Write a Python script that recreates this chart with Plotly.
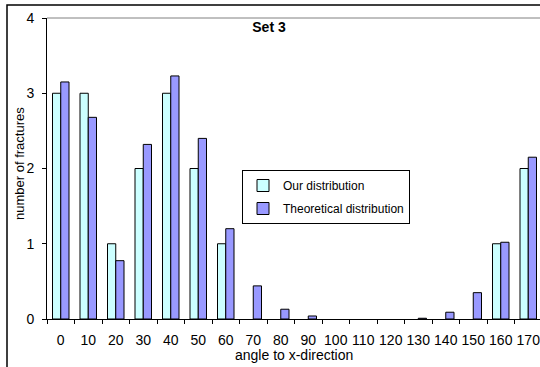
import plotly.graph_objects as go

# Orientation classes (degrees to x-direction)
angles = ["0", "10", "20", "30", "40", "50", "60", "70", "80", "90",
          "100", "110", "120", "130", "140", "150", "160", "170"]
# Observed fracture counts per class (None = no fractures in class)
our_counts = [3, 3, 1, 2, 3, 2, 1, None, None, None, None, None, None,
              None, None, None, 1, 2]
# Theoretical expected counts per class
theoretical = [3.15, 2.68, 0.775, 2.32, 3.23, 2.40, 1.20, 0.44, 0.13, 0.04,
               None, None, None, 0.01, 0.09, 0.35, 1.02, 2.15]

W, H = 540, 367
ML, MR, MT, MB = 47, 0, 18, 48
PW, PH = W - ML - MR, H - MT - MB

def px_x(x):
    return (x - ML) / PW

def px_y(y):
    return (H - MB - y) / PH

font_family = "Liberation Sans, Arial, sans-serif"

fig = go.Figure()
fig.add_trace(go.Bar(
    x=angles, y=our_counts, name="Our distribution",
    marker=dict(color="#CCFFFF", line=dict(color="black", width=1)),
    legendgroup="a",
))
fig.add_trace(go.Bar(
    x=angles, y=theoretical, name="Theoretical distribution",
    marker=dict(color="#9999FF", line=dict(color="black", width=1)),
    legendgroup="b",
))

cat_w = 27.5
fig.update_layout(
    width=W, height=H,
    margin=dict(l=ML, r=MR, t=MT, b=MB, pad=0),
    paper_bgcolor="white", plot_bgcolor="white",
    font=dict(family=font_family, size=14, color="black"),
    barmode="group", bargap=0.4, bargroupgap=0,
    title=dict(text="<b>Set 3</b>", x=269 / W, xanchor="center",
               y=1 - 27 / H, yanchor="middle",
               font=dict(size=14, family=font_family)),
    showlegend=True,
    legend=dict(
        x=px_x(242), y=px_y(170), xanchor="left", yanchor="top",
        bgcolor="white", bordercolor="black", borderwidth=1,
        font=dict(size=12, family=font_family),
        traceorder="grouped", tracegroupgap=4,
        itemwidth=30,
    ),
    xaxis=dict(
        type="category",
        range=[-0.5, -0.5 + PW / cat_w],
        tickson="boundaries", ticks="outside", ticklen=4,
        tickcolor="black", showline=True, linecolor="black", linewidth=1,
        showgrid=False, zeroline=False, tickangle=0,
        tickfont=dict(size=14), ticklabelstandoff=8,
    ),
    yaxis=dict(
        range=[0, 4], dtick=1, ticks="outside", ticklen=4,
        tickcolor="black", showline=True, linecolor="black", linewidth=1,
        showgrid=False, zeroline=False,
        tickfont=dict(size=14), ticklabelstandoff=5,
    ),
    annotations=[
        dict(text="angle to x-direction", xref="paper", yref="paper",
             x=px_x(294), y=px_y(355), xanchor="center", yanchor="middle",
             showarrow=False, font=dict(size=14)),
        dict(text="number of fractures", xref="paper", yref="paper",
             x=px_x(19), y=px_y(164), xanchor="center", yanchor="middle",
             textangle=-90, showarrow=False, font=dict(size=13)),
    ],
    shapes=[
        # outer chart frame
        dict(type="rect", xref="paper", yref="paper",
             x0=px_x(7), x1=px_x(560), y0=px_y(390), y1=px_y(5),
             line=dict(color="black", width=1.5), fillcolor="rgba(0,0,0,0)",
             layer="above"),
        # plot area top border
        dict(type="line", xref="paper", yref="paper",
             x0=0, x1=1.05, y0=1, y1=1,
             line=dict(color="#808080", width=1)),
    ],
)

fig.write_html("out.html")
